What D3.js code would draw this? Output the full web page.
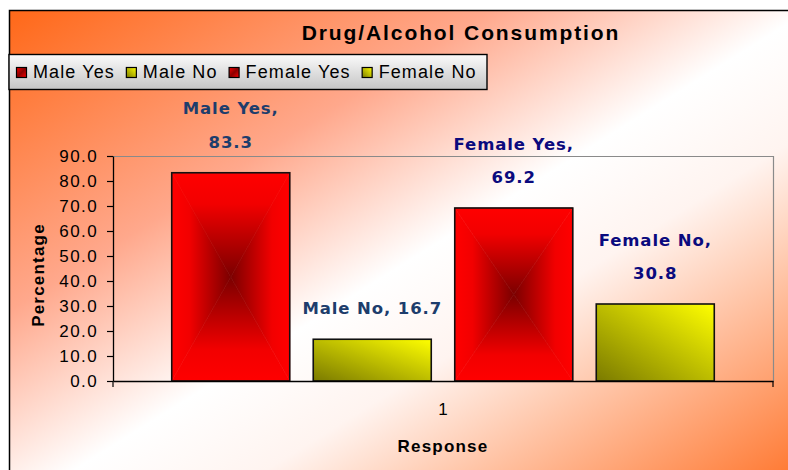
<!DOCTYPE html>
<html>
<head>
<meta charset="utf-8">
<script src="https://cdn.jsdelivr.net/npm/d3@7"></script>
<style>
  html, body { margin: 0; padding: 0; background: #fff; }
  svg { display: block; font-family: "Liberation Sans", Arial, sans-serif; }
</style>
</head>
<body>
<svg width="788" height="470"></svg>
<script>
// chart data
const categories = ['1'];
const seriesNames = ['Male Yes', 'Male No', 'Female Yes', 'Female No'];
const seriesValues = [83.3, 16.7, 69.2, 30.8];
const yTicks = [0, 10, 20, 30, 40, 50, 60, 70, 80, 90];

const svg = d3.select('svg');
const margin = { left: 113, right: 773, top: 156, bottom: 381 };

// colour helpers keyed by series
const kind = d3.scaleOrdinal().domain(seriesNames).range(['yes', 'no', 'yes', 'no']);
const labelColor = d3.scaleOrdinal().domain(seriesNames).range(['#1d3d6c', '#1d3d6c', '#0a0a7e', '#0a0a7e']);
const wrapLabel = d3.scaleOrdinal().domain(seriesNames).range([true, false, true, true]);

const defs = svg.append('defs');

function linGrad(id, x1, y1, x2, y2, stops) {
  let g = defs.append('linearGradient').attr('id', id)
    .attr('x1', x1).attr('y1', y1).attr('x2', x2).attr('y2', y2);
  stops.forEach(s => g.append('stop').attr('offset', s[0]).attr('stop-color', s[1]));
}

// background
linGrad('bg', 0, 0, 1, 1, [[0, '#ff6818'], [0.3, '#ffa88c'], [0.5, '#ffffff'], [0.62, '#fff4f0'], [1, '#ff6818']]);
// legend box
linGrad('legendBg', 0, 0, 0, 1, [[0, '#fbfbfb'], [1, '#c4c4c4']]);
// red "rectangle" gradient, split in 4 triangles
const redStops = [[0, '#ff0000'], [0.3, '#f20000'], [1, '#7a0000']];
linGrad('rTop', 0, 0, 0, 1, redStops);
linGrad('rBottom', 0, 1, 0, 0, redStops);
linGrad('rLeft', 0, 0, 1, 0, redStops);
linGrad('rRight', 1, 0, 0, 0, redStops);
// yellow diagonal
linGrad('yel', 0, 1, 1, 0, [[0, '#7a7a00'], [1, '#ffff00']]);

// frame
svg.append('rect')
  .attr('x', 9.5).attr('y', 10.5)
  .attr('width', 800).attr('height', 500)
  .attr('fill', 'url(#bg)')
  .attr('stroke', '#000').attr('stroke-width', 1.5);

// title
svg.append('text')
  .attr('x', 461).attr('y', 40)
  .attr('text-anchor', 'middle')
  .attr('font-size', 21).attr('font-weight', 'bold')
  .attr('letter-spacing', 1.9)
  .text('Drug/Alcohol Consumption');

// scales
let x0 = d3.scaleBand().domain(categories).range([margin.left, margin.right]);
let x1 = d3.scaleBand().domain(seriesNames)
  .range([0, x0.bandwidth()])
  .paddingInner(0.166).paddingOuter(0.415);
let y = d3.scaleLinear().domain([0, 90]).range([margin.bottom, margin.top]);

// plot border (top / right grey)
svg.append('path')
  .attr('d', `M${margin.left},${margin.top + 0.5}H${margin.right + 0.5}V${margin.bottom}`)
  .attr('fill', 'none').attr('stroke', '#8a8a8a').attr('stroke-width', 1.2);

// bars
function drawRedBar(g, bx, by, bw, bh) {
  let cx = bx + bw / 2, cy = by + bh / 2;
  let tri = [
    [[bx, by], [bx + bw, by], [cx, cy], 'rTop'],
    [[bx, by + bh], [bx + bw, by + bh], [cx, cy], 'rBottom'],
    [[bx, by], [bx, by + bh], [cx, cy], 'rLeft'],
    [[bx + bw, by], [bx + bw, by + bh], [cx, cy], 'rRight']
  ];
  tri.forEach(t => {
    g.append('path')
      .attr('d', `M${t[0]}L${t[1]}L${t[2]}Z`)
      .attr('fill', `url(#${t[3]})`)
      .attr('stroke', `url(#${t[3]})`).attr('stroke-width', 0.6);
  });
}

let bars = svg.append('g').selectAll('g.bar')
  .data(seriesNames.map((s, i) => ({ name: s, value: seriesValues[i], cat: categories[0] })))
  .enter().append('g').attr('class', 'bar');

bars.each(function (d) {
  let g = d3.select(this);
  let bx = x0(d.cat) + x1(d.name), bw = x1.bandwidth();
  let by = y(d.value), bh = y(0) - y(d.value);
  if (kind(d.name) === 'yes') {
    drawRedBar(g, bx, by, bw, bh);
  } else {
    g.append('rect').attr('x', bx).attr('y', by).attr('width', bw).attr('height', bh)
      .attr('fill', 'url(#yel)');
  }
  g.append('rect').attr('x', bx).attr('y', by).attr('width', bw).attr('height', bh)
    .attr('fill', 'none').attr('stroke', '#111').attr('stroke-width', 1.6);
});

// data labels
bars.append('text')
  .attr('text-anchor', 'middle')
  .attr('font-family', '"DejaVu Sans", sans-serif')
  .attr('font-weight', 'bold')
  .attr('font-size', 16.5)
  .attr('letter-spacing', 0.9)
  .attr('fill', d => labelColor(d.name))
  .each(function (d) {
    let txt = d3.select(this);
    let cx = x0(d.cat) + x1(d.name) + x1.bandwidth() / 2;
    let lines = wrapLabel(d.name) ? [d.name + ',', d3.format('.1f')(d.value)] : [d.name + ', ' + d3.format('.1f')(d.value)];
    let base = y(d.value) - 25;
    lines.forEach((l, i) => {
      txt.append('tspan')
        .attr('x', cx)
        .attr('y', base - (lines.length - 1 - i) * 33.5)
        .text(l);
    });
  });

// y axis
let yAxis = svg.append('g')
  .attr('transform', `translate(${margin.left},0)`)
  .call(d3.axisLeft(y).tickValues(yTicks).tickFormat(d3.format('.1f')).tickSize(6).tickSizeOuter(0).tickPadding(9));
yAxis.select('.domain').attr('stroke', '#000').attr('stroke-width', 1.3);
yAxis.selectAll('line').attr('stroke', '#000').attr('stroke-width', 1.2);
yAxis.selectAll('text')
  .attr('font-family', '"Liberation Sans", Arial, sans-serif')
  .attr('font-size', 17).attr('letter-spacing', 1.4).attr('fill', '#000');

// x axis
let xAxis = svg.append('g')
  .attr('transform', `translate(0,${margin.bottom})`)
  .call(d3.axisBottom(x0).tickSize(0).tickPadding(22).tickSizeOuter(0));
xAxis.select('.domain').attr('stroke', '#000').attr('stroke-width', 1.3);
xAxis.selectAll('text')
  .attr('font-family', '"Liberation Sans", Arial, sans-serif')
  .attr('font-size', 17).attr('fill', '#000');
// boundary ticks between categories
xAxis.selectAll('line.edge')
  .data(x0.range())
  .enter().append('line')
  .attr('class', 'edge')
  .attr('x1', d => d).attr('x2', d => d)
  .attr('y1', 0).attr('y2', 6)
  .attr('stroke', '#000').attr('stroke-width', 1.2);

// axis titles
svg.append('text')
  .attr('transform', 'translate(44,275) rotate(-90)')
  .attr('text-anchor', 'middle')
  .attr('font-size', 17).attr('font-weight', 'bold').attr('letter-spacing', 1.2)
  .text('Percentage');

svg.append('text')
  .attr('x', 443).attr('y', 452)
  .attr('text-anchor', 'middle')
  .attr('font-size', 17).attr('font-weight', 'bold').attr('letter-spacing', 1.2)
  .text('Response');

// legend
let legend = svg.append('g');
legend.append('rect')
  .attr('x', 9).attr('y', 54.5).attr('width', 478).attr('height', 35)
  .attr('fill', 'url(#legendBg)')
  .attr('stroke', '#000').attr('stroke-width', 1.4);

linGrad('swRed', 0, 0, 1, 1, [[0, '#ff0000'], [0.5, '#8a0000'], [1, '#ff0000']]);
let lx = 16;
seriesNames.forEach(s => {
  legend.append('rect')
    .attr('x', lx + 0.5).attr('y', 67.5).attr('width', 10).attr('height', 10)
    .attr('fill', kind(s) === 'yes' ? 'url(#swRed)' : 'url(#yel)')
    .attr('stroke', '#000').attr('stroke-width', 1.2);
  let t = legend.append('text')
    .attr('x', lx + 17).attr('y', 78)
    .attr('font-size', 18).attr('letter-spacing', 1.1)
    .text(s);
  lx += 17 + t.node().getComputedTextLength() + 11;
});
</script>
</body>
</html>
